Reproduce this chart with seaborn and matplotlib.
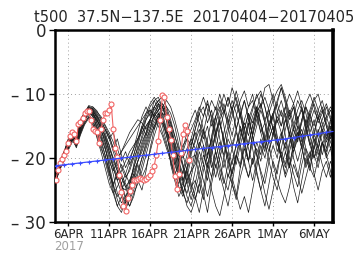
import matplotlib
matplotlib.use("Agg")
import matplotlib.pyplot as plt
import seaborn as sns
import pandas as pd

# ---------------- data ----------------
title_text = "t500  37.5N\u2212137.5E  20170404\u221220170405"
tick_dates = ["2017-04-06", "2017-04-11", "2017-04-16", "2017-04-21",
              "2017-04-26", "2017-05-01", "2017-05-06"]
tick_labels = ["6APR", "11APR", "16APR", "21APR", "26APR", "1MAY", "6MAY"]
year_label = "2017"
y_ticks = [0, -10, -20, -30]

# observation (6-hourly from 2017-04-04 12Z)
obs = [-23.4, -21.8, -20.8, -20.1, -19.5, -18.9, -17.6, -16.5, -15.9, -16.2,
       -17.4, -14.6, -14.3, -13.8, -13.0, -12.6, -12.7, -14.0, -15.5, -15.7,
       -15.9, -17.6, -15.5, -14.0, -13.0, -12.9, -12.5, -11.6, -15.5, -18.4,
       -19.8, -22.6, -25.3, -27.5, -28.2, -26.2, -25.2, -24.2, -23.4, -23.4,
       -23.3, -23.1, -23.3, -23.4, -23.2, -23.0, -22.7, -22.0, -21.2, -19.5,
       -17.3, -14.0, -10.2, -10.5, -13.6, -15.4, -17.2, -19.5, -22.8, -24.8,
       -22.5, -19.2, -16.2, -14.8, -15.7, -20.3]

# climatology (daily from 2017-04-04 12Z)
clim = [-21.2, -21.05, -20.9, -20.75, -20.6, -20.45, -20.3, -20.15, -20.0,
        -19.85, -19.7, -19.55, -19.4, -19.25, -19.1, -18.95, -18.8, -18.65,
        -18.5, -18.35, -18.2, -18.05, -17.9, -17.75, -17.6, -17.45, -17.3,
        -17.15, -17.0, -16.8, -16.6, -16.4, -16.2, -16.0, -15.8]

# ensemble members (12-hourly from 2017-04-04 12Z)
member_01 = [-23.0, -21.0, -19.2, -17.5, -16.5, -17.0, -14.5, -13.2, -12.4, -13.0, -14.2, -15.0,
             -16.5, -18.0, -20.5, -22.0, -24.5, -25.0, -23.5, -22.0,
             -20.5, -19.0, -17.0, -15.5, -13.0, -12.0, -11.5, -13.0,
             -15.0, -18.5, -21.0, -23.5, -22.0, -19.5,
             -17.0, -14.5, -16.0, -19.5, -17.0, -13.5, -12.0, -15.0, -18.5, -21.0, -18.0, -15.5,
             -17.5, -20.5, -16.5, -13.0, -11.5, -14.0, -12.5, -15.5, -19.0, -17.0, -14.0, -16.5,
             -13.5, -11.0, -12.5, -15.5, -18.0, -16.0, -13.5, -12.0, -14.5, -16.5, -15.0]
member_02 = [-23.2, -20.5, -19.0, -17.8, -16.0, -17.8, -15.0, -13.5, -12.0, -12.5, -13.8, -15.5,
             -17.5, -20.0, -22.5, -25.5, -27.0, -26.0, -24.5, -21.0,
             -18.0, -15.5, -13.5, -12.0, -11.0, -12.5, -14.0, -16.5,
             -19.0, -22.0, -24.5, -26.0, -23.0, -20.0,
             -19.5, -23.0, -25.5, -28.5, -24.0, -21.0, -23.5, -20.0, -17.0, -18.5, -21.0, -18.0,
             -15.5, -13.0, -14.5, -12.0, -15.0, -17.5, -20.5, -23.0, -25.0, -21.5, -19.0, -21.5,
             -17.5, -15.0, -16.5, -14.0, -16.5, -19.5, -21.5, -18.0, -16.0, -18.5, -16.5]
member_03 = [-22.8, -21.2, -19.8, -18.0, -16.8, -16.5, -14.8, -13.8, -12.8, -12.2, -13.0, -14.0,
             -15.5, -17.0, -19.0, -21.0, -22.5, -24.0, -25.5, -24.0,
             -22.0, -20.0, -18.0, -16.0, -14.5, -13.5, -12.5, -12.0,
             -13.0, -15.0, -18.0, -21.0, -24.0, -26.5,
             -24.0, -21.0, -18.0, -20.0, -16.5, -13.5, -11.0, -13.0, -10.5, -12.5, -15.5, -13.0,
             -17.0, -20.5, -23.5, -20.5, -17.0, -19.0, -15.0, -13.0, -11.0, -9.0, -11.5, -14.0,
             -12.0, -15.5, -18.5, -16.0, -13.5, -15.0, -12.5, -11.0, -13.5, -15.5, -13.0]
member_04 = [-23.5, -21.5, -20.0, -18.5, -17.2, -18.2, -16.0, -14.2, -13.0, -13.5, -15.0, -16.5,
             -18.5, -21.0, -24.0, -26.5, -28.0, -27.0, -25.0, -22.5,
             -23.5, -25.0, -22.0, -18.5, -15.5, -13.0, -15.0, -17.5,
             -20.5, -23.0, -25.0, -24.0, -21.5, -18.5,
             -15.5, -13.0, -15.5, -18.0, -21.5, -19.0, -22.5, -25.0, -27.5, -24.0, -26.0, -21.5,
             -18.5, -20.5, -16.0, -13.0, -11.5, -14.5, -17.0, -15.0, -17.5, -20.0, -17.5, -21.0,
             -24.5, -27.0, -23.5, -20.0, -22.0, -18.0, -15.5, -17.5, -20.0, -18.5, -21.5]
member_05 = [-22.5, -20.8, -19.5, -17.8, -16.2, -17.5, -15.5, -13.0, -11.8, -12.0, -12.8, -13.5,
             -14.8, -16.0, -17.5, -19.5, -21.5, -23.0, -22.0, -20.0,
             -18.5, -17.0, -15.0, -14.0, -15.5, -14.0, -12.0, -11.0,
             -12.0, -14.0, -16.5, -19.5, -22.0, -24.0,
             -26.0, -28.5, -25.0, -21.0, -23.0, -18.5, -15.5, -13.0, -10.5, -12.5, -9.5, -12.0,
             -15.5, -18.0, -15.0, -12.5, -10.0, -12.0, -15.0, -13.5, -17.0, -20.0, -22.5, -19.0,
             -16.5, -14.0, -12.5, -15.0, -13.0, -16.0, -18.5, -16.0, -14.0, -12.5, -14.0]
member_06 = [-23.0, -21.0, -19.0, -17.0, -15.8, -16.8, -14.0, -12.8, -12.2, -13.5, -15.5, -17.0,
             -19.5, -22.0, -24.5, -26.0, -25.0, -23.5, -21.5, -19.5,
             -17.5, -15.0, -13.0, -11.5, -10.5, -11.5, -13.5, -16.0,
             -18.5, -21.0, -23.0, -25.5, -27.0, -25.0,
             -22.0, -19.0, -21.0, -17.0, -14.0, -12.0, -14.5, -17.5, -20.0, -22.5, -19.5, -21.5,
             -18.0, -15.0, -12.5, -10.0, -12.0, -9.0, -8.5, -11.0, -14.5, -12.5, -16.5, -20.0,
             -22.5, -24.5, -21.0, -18.5, -20.0, -16.5, -13.5, -15.5, -17.5, -16.0, -18.0]
member_07 = [-23.3, -21.3, -19.5, -18.2, -16.5, -17.2, -15.2, -13.6, -12.6, -12.8, -14.5, -15.8,
             -17.0, -19.0, -21.0, -23.0, -24.0, -22.5, -20.5, -18.5,
             -17.0, -16.0, -15.0, -14.0, -13.0, -14.0, -16.0, -18.0,
             -20.0, -22.5, -24.0, -22.0, -19.5, -17.0,
             -14.5, -12.5, -10.5, -12.5, -15.0, -13.5, -17.0, -20.0, -23.0, -20.5, -18.0, -15.0,
             -17.5, -14.5, -18.5, -22.0, -25.0, -27.5, -24.0, -20.5, -22.5, -18.5, -15.5, -13.0,
             -11.5, -14.0, -12.0, -15.0, -17.5, -20.0, -18.5, -15.5, -17.0, -14.5, -13.5]
member_08 = [-22.7, -20.6, -19.0, -17.5, -16.8, -17.8, -15.8, -14.0, -13.2, -14.0, -16.0, -18.0,
             -20.5, -23.0, -25.5, -27.5, -28.5, -26.5, -27.5, -25.5,
             -24.0, -22.0, -19.5, -17.0, -15.0, -13.5, -14.5, -16.0,
             -17.0, -19.5, -22.0, -24.0, -25.5, -23.0,
             -20.0, -17.5, -19.0, -22.0, -25.0, -27.5, -29.0, -26.0, -22.5, -24.0, -20.0, -17.0,
             -14.5, -16.5, -13.5, -12.0, -14.5, -17.5, -15.0, -13.0, -11.5, -13.5, -12.0, -15.0,
             -18.0, -20.5, -18.0, -21.5, -19.5, -17.0, -18.5, -21.0, -23.0, -20.5, -22.5]
member_09 = [-23.1, -21.4, -20.2, -18.8, -17.5, -17.0, -15.0, -13.4, -12.5, -12.0, -12.6, -13.8,
             -15.0, -16.5, -18.5, -20.0, -19.0, -17.5, -16.0, -15.0,
             -14.0, -14.5, -15.5, -14.0, -12.5, -11.5, -12.0, -14.0,
             -16.5, -19.0, -21.5, -23.5, -21.5, -19.0,
             -17.5, -15.5, -18.0, -21.0, -18.5, -16.0, -13.5, -11.5, -14.0, -16.5, -13.5, -11.0,
             -9.5, -12.0, -10.0, -13.0, -16.0, -18.5, -16.0, -13.5, -11.5, -9.0, -11.0, -13.5,
             -12.0, -14.5, -17.5, -15.0, -18.0, -20.0, -17.5, -15.0, -13.5, -12.0, -13.0]
member_10 = [-23.6, -21.8, -20.4, -18.6, -16.8, -18.0, -16.2, -14.5, -13.5, -14.5, -16.8, -19.0,
             -21.5, -24.0, -25.5, -24.5, -23.0, -24.5, -26.5, -25.0,
             -22.5, -20.0, -17.5, -15.5, -14.0, -13.0, -14.0, -15.5,
             -17.5, -20.0, -22.5, -25.0, -27.5, -28.5,
             -26.5, -24.0, -26.5, -22.0, -19.0, -16.5, -14.5, -17.0, -20.0, -23.0, -25.5, -28.0,
             -26.0, -28.5, -25.0, -21.5, -18.0, -20.0, -17.0, -15.0, -17.5, -20.0, -23.0, -21.0,
             -18.0, -16.0, -18.5, -21.0, -19.0, -22.5, -25.0, -22.0, -20.5, -23.0, -20.0]
member_11 = [-22.9, -20.9, -19.3, -17.6, -16.2, -17.0, -14.6, -13.3, -12.3, -12.6, -13.5, -14.5,
             -16.0, -18.0, -20.0, -21.5, -23.0, -24.5, -23.5, -21.5,
             -19.5, -17.5, -16.0, -14.0, -12.0, -11.0, -10.5, -12.0,
             -14.0, -16.5, -19.0, -21.5, -24.0, -22.0,
             -19.0, -16.5, -13.5, -11.5, -13.5, -16.5, -14.0, -17.5, -21.0, -24.0, -26.5, -23.0,
             -20.5, -17.5, -15.0, -12.5, -14.5, -17.0, -19.0, -16.0, -13.5, -15.0, -12.0, -10.0,
             -11.5, -9.5, -12.0, -14.5, -12.5, -10.5, -12.5, -14.5, -16.5, -14.0, -16.5]
member_12 = [-23.4, -21.1, -19.7, -18.3, -17.0, -17.6, -15.3, -13.8, -13.0, -13.2, -14.0, -15.2,
             -16.8, -18.5, -20.0, -22.0, -24.0, -26.0, -27.5, -26.0,
             -23.5, -21.0, -18.5, -16.5, -15.0, -14.0, -13.0, -13.5,
             -15.5, -18.0, -20.5, -22.5, -20.5, -18.0,
             -15.5, -13.0, -12.0, -14.5, -12.5, -16.0, -19.0, -21.5, -19.0, -22.5, -19.5, -16.5,
             -14.0, -12.0, -11.0, -13.5, -16.0, -14.5, -18.0, -21.0, -23.5, -25.5, -27.0, -24.5,
             -21.0, -23.0, -19.5, -16.5, -14.5, -12.5, -14.0, -12.5, -15.0, -17.0, -15.0]
member_13 = [-22.6, -20.7, -19.1, -17.3, -16.0, -16.6, -14.2, -12.9, -11.9, -12.3, -13.2, -14.8,
             -16.5, -19.0, -21.5, -23.5, -25.5, -27.0, -25.5, -23.0,
             -20.5, -18.0, -16.0, -14.5, -13.5, -12.5, -11.5, -12.5,
             -14.5, -17.5, -20.5, -23.5, -26.0, -27.5,
             -25.0, -22.5, -19.5, -21.5, -17.5, -14.5, -12.5, -10.0, -12.0, -9.0, -11.0, -13.5,
             -16.0, -18.5, -21.0, -18.5, -20.5, -17.0, -14.5, -16.5, -13.0, -11.0, -13.5, -16.0,
             -18.5, -16.0, -18.0, -15.5, -13.0, -11.0, -10.0, -12.5, -15.0, -17.5, -19.0]
member_14 = [-23.2, -21.6, -19.9, -18.1, -16.6, -17.6, -15.7, -14.0, -12.9, -13.3, -15.2, -16.8,
             -18.5, -20.5, -22.0, -20.5, -19.0, -18.0, -17.0, -16.0,
             -15.0, -14.0, -13.0, -12.5, -13.5, -15.0, -16.5, -18.5,
             -20.5, -22.5, -21.0, -19.0, -17.0, -15.5,
             -14.0, -12.0, -13.5, -11.0, -14.0, -17.5, -20.5, -23.5, -25.0, -22.0, -19.5, -21.0,
             -17.0, -14.0, -12.0, -10.5, -9.5, -12.0, -14.5, -13.0, -16.5, -19.5, -21.5, -18.0,
             -15.5, -17.5, -14.0, -12.0, -14.5, -17.0, -19.5, -17.5, -19.5, -16.5, -14.5]
member_15 = [-23.0, -21.2, -19.6, -18.0, -16.4, -17.3, -15.1, -13.7, -12.7, -12.9, -14.0, -15.6,
             -17.5, -19.5, -21.5, -23.5, -22.0, -20.5, -19.0, -18.0,
             -17.0, -15.5, -14.0, -13.0, -12.0, -11.0, -12.0, -13.5,
             -15.5, -17.5, -19.5, -21.0, -23.0, -25.0,
             -26.5, -24.0, -21.0, -23.5, -19.5, -16.0, -14.0, -12.5, -14.5, -12.0, -15.5, -18.5,
             -21.0, -23.0, -20.5, -17.5, -19.5, -16.0, -13.0, -11.0, -9.5, -8.5, -10.5, -13.0,
             -15.5, -13.5, -17.0, -19.5, -21.5, -23.0, -20.0, -17.5, -19.0, -15.5, -14.0]
member_16 = [-23.5, -21.7, -20.1, -18.4, -17.0, -18.4, -16.4, -14.8, -13.8, -14.8, -16.5, -18.5,
             -20.0, -22.5, -24.0, -22.5, -21.0, -22.5, -24.0, -22.5,
             -20.5, -18.5, -16.5, -15.0, -13.5, -12.5, -12.0, -13.0,
             -14.5, -16.5, -18.5, -20.0, -18.5, -17.0,
             -18.5, -21.0, -23.5, -26.0, -23.0, -20.0, -17.5, -19.5, -16.0, -13.5, -11.5, -13.5,
             -11.0, -14.0, -16.5, -19.5, -22.0, -24.0, -20.5, -18.0, -20.0, -16.5, -14.0, -12.5,
             -14.5, -17.0, -15.5, -18.5, -21.5, -18.5, -16.0, -14.0, -12.0, -14.0, -12.5]
member_17 = [-23.1, -21.0, -19.4, -17.9, -16.3, -17.4, -15.0, -13.5, -12.5, -13.0, -14.6, -16.2,
             -18.0, -21.5, -24.5, -22.0, -24.0, -26.5, -24.0, -21.5,
             -19.0, -16.5, -14.0, -12.5, -13.5, -11.5, -13.0, -15.5,
             -18.0, -20.5, -23.0, -25.5, -23.5, -22.0,
             -21.0, -18.0, -15.5, -17.5, -20.5, -23.0, -20.0, -17.5, -15.0, -12.5, -10.5, -13.0,
             -15.5, -13.0, -16.5, -19.5, -22.5, -25.5, -28.0, -25.0, -21.5, -19.0, -21.0, -17.5,
             -15.0, -12.5, -11.0, -13.0, -16.0, -14.0, -17.0, -19.5, -17.0, -15.0, -16.5]
member_18 = [-22.8, -20.6, -19.2, -17.2, -16.1, -16.9, -14.4, -13.1, -12.1, -12.4, -13.4, -14.2,
             -15.5, -17.0, -16.0, -18.5, -20.5, -19.0, -21.0, -19.5,
             -17.0, -15.0, -16.5, -14.0, -12.0, -13.0, -14.5, -16.5,
             -19.0, -21.0, -19.5, -18.0, -17.0, -18.0,
             -16.0, -18.5, -16.0, -13.0, -11.0, -12.5, -10.0, -12.5, -15.0, -18.0, -15.5, -13.0,
             -11.0, -13.5, -16.5, -14.0, -12.0, -10.5, -12.5, -15.5, -18.0, -16.0, -19.0, -21.5,
             -19.0, -16.5, -14.0, -11.5, -10.0, -12.0, -14.5, -13.0, -11.5, -13.5, -16.0]
member_19 = [-23.4, -21.5, -20.0, -18.3, -17.1, -18.1, -16.0, -14.6, -13.6, -14.2, -15.8, -17.6,
             -19.5, -22.0, -25.0, -27.5, -26.0, -28.0, -26.5, -23.5,
             -21.0, -23.0, -21.5, -19.0, -16.5, -14.5, -13.0, -14.0,
             -21.0, -23.5, -26.0, -24.5, -22.0, -24.5,
             -23.5, -25.5, -22.0, -19.5, -17.0, -19.0, -21.5, -24.0, -21.0, -18.5, -16.0, -18.0,
             -20.5, -23.0, -20.0, -22.5, -25.0, -22.5, -19.0, -16.5, -14.0, -16.0, -18.5, -16.0,
             -20.0, -22.5, -25.5, -23.0, -20.5, -18.0, -20.5, -17.5, -19.5, -22.0, -24.5]
member_20 = [-22.9, -21.1, -19.6, -17.7, -16.6, -17.0, -14.9, -13.4, -12.4, -12.7, -13.6, -14.9,
             -15.5, -16.5, -18.5, -17.0, -19.5, -21.5, -20.0, -18.5,
             -16.0, -13.5, -12.0, -13.5, -11.0, -10.5, -12.0, -14.0,
             -16.0, -18.5, -20.5, -18.5, -16.0, -14.0,
             -12.5, -14.5, -17.0, -15.0, -18.5, -21.5, -19.0, -16.0, -13.5, -11.0, -13.0, -15.5,
             -18.0, -20.5, -17.5, -15.0, -12.5, -14.5, -12.0, -10.0, -12.5, -15.0, -13.0, -16.5,
             -19.0, -17.0, -14.5, -12.0, -13.5, -11.5, -13.5, -16.0, -18.5, -16.0, -17.5]

members = [member_01, member_02, member_03, member_04, member_05, member_06,
           member_07, member_08, member_09, member_10, member_11, member_12,
           member_13, member_14, member_15, member_16, member_17, member_18,
           member_19, member_20]

# ---------------- frames ----------------
start = pd.Timestamp("2017-04-04 12:00")
rows = []
for k, m in enumerate(members):
    t = pd.date_range(start, periods=len(m), freq="12h")
    rows.append(pd.DataFrame({"time": t, "t500": m, "member": k}))
ens_df = pd.concat(rows, ignore_index=True)
obs_df = pd.DataFrame({"time": pd.date_range(start, periods=len(obs), freq="6h"), "t500": obs})
clim_df = pd.DataFrame({"time": pd.date_range(start, periods=len(clim), freq="1D"), "t500": clim})

# ---------------- plot ----------------
sns.set_style("white")
plt.rcParams["font.family"] = ["DejaVu Sans"]
fig = plt.figure(figsize=(3.61, 2.61), dpi=100)
ax = fig.add_axes([0.151, 0.149, 0.771, 0.736])

sns.lineplot(data=ens_df, x="time", y="t500", units="member", estimator=None,
             color="#1a1a1a", lw=0.5, ax=ax, legend=False, zorder=2)
sns.lineplot(data=obs_df, x="time", y="t500", color="#f06464", lw=0.8,
             marker="o", markersize=3.6, markerfacecolor="white",
             markeredgecolor="#f06464", markeredgewidth=0.8, ax=ax, zorder=3)
sns.lineplot(data=clim_df, x="time", y="t500", color="#3b4cff", lw=0.9,
             marker="+", markersize=3.5, markeredgecolor="#3b4cff",
             markeredgewidth=0.8, ax=ax, zorder=4)

ax.set_xlim(pd.Timestamp("2017-04-04 08:00"), pd.Timestamp("2017-05-08 07:00"))
ax.set_ylim(-30, 0)
ax.set_yticks(y_ticks)
ax.set_yticklabels([("\u2013 %d" % abs(v)) if v < 0 else "%d" % v for v in y_ticks],
                   fontsize=12)
ax.set_xticks(pd.to_datetime(tick_dates))
ax.set_xticklabels(tick_labels, fontsize=8.5)
ax.set_xlabel("")
ax.set_ylabel("")

ax.grid(True, axis="both", color="#a0a0a0", linestyle=(0, (1, 3)), lw=0.7)
for s in ax.spines.values():
    s.set_color("black")
    s.set_linewidth(1.8)
ax.spines["right"].set_linewidth(2.6)
ax.tick_params(axis="x", direction="out", length=3, width=1, color="black",
               bottom=True, pad=1)
ax.tick_params(axis="y", direction="out", length=4, width=1, color="black",
               left=True, pad=2)

ax.set_title(title_text, fontsize=10.5, pad=6)
fig.text(54 / 361, 1 - 247 / 261, year_label, color="#a0a0a0", fontsize=8.5,
         ha="left", va="center")

fig.savefig("out.png", dpi=100)
